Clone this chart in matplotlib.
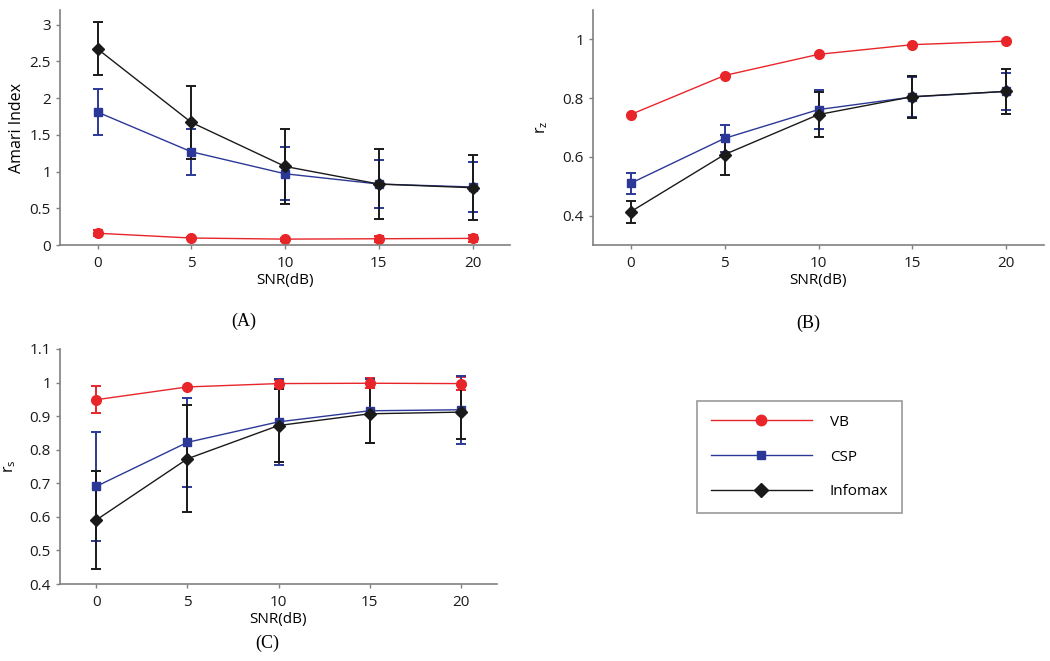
import matplotlib
matplotlib.use('Agg')
import matplotlib.pyplot as plt
from matplotlib.lines import Line2D

plt.rcParams['font.family'] = ['Open Sans', 'DejaVu Sans']

snr = [0, 5, 10, 15, 20]
metodos = ['VB', 'CSP', 'Infomax']

# (A) Amari index
amari_vb = [0.16, 0.095, 0.08, 0.085, 0.09]
amari_vb_err = [0.04, 0.02, 0.02, 0.04, 0.05]
amari_csp = [1.81, 1.27, 0.97, 0.83, 0.79]
amari_csp_err = [0.31, 0.31, 0.36, 0.33, 0.34]
amari_info = [2.67, 1.67, 1.07, 0.83, 0.78]
amari_info_err = [0.36, 0.50, 0.51, 0.48, 0.44]

# (B) r_z
rz_vb = [0.744, 0.877, 0.949, 0.982, 0.994]
rz_vb_err = [0, 0, 0, 0, 0]
rz_csp = [0.51, 0.663, 0.761, 0.804, 0.823]
rz_csp_err = [0.035, 0.045, 0.067, 0.068, 0.064]
rz_info = [0.413, 0.608, 0.744, 0.805, 0.823]
rz_info_err = [0.037, 0.068, 0.078, 0.072, 0.076]

# (C) r_s
rs_vb = [0.949, 0.987, 0.997, 0.998, 0.997]
rs_vb_err = [0.04, 0.0, 0.012, 0.015, 0.02]
rs_csp = [0.691, 0.822, 0.883, 0.916, 0.919]
rs_csp_err = [0.162, 0.133, 0.128, 0.096, 0.102]
rs_info = [0.591, 0.773, 0.872, 0.907, 0.912]
rs_info_err = [0.146, 0.16, 0.108, 0.088, 0.08]

cores = {'VB': '#e8262a', 'CSP': '#2b3897', 'Infomax': '#1a1a1a'}
marcadores = {'VB': ('o', 7), 'CSP': ('s', 5.5), 'Infomax': ('D', 6.5)}
cinza = '#808080'

fig = plt.figure(figsize=(10.5, 6.61), dpi=100)


def painel(pos, dados, ylim, yticks, ylabel, xlab_x):
    ax = fig.add_axes(pos)
    for nome, (y, err) in zip(metodos, dados):
        m, ms = marcadores[nome]
        ax.errorbar(snr, y, yerr=err, color=cores[nome], marker=m, markersize=ms,
                    linewidth=1.0, elinewidth=1.4, capsize=3.5, capthick=1.4,
                    label=nome)
    ax.set_xlim(-2, 22)
    ax.set_ylim(*ylim)
    ax.set_xticks(snr)
    ax.set_yticks(yticks)
    ax.set_yticklabels([('%g' % v) for v in yticks])
    for lado in ['top', 'right']:
        ax.spines[lado].set_visible(False)
    for lado in ['left', 'bottom']:
        ax.spines[lado].set_color(cinza)
        ax.spines[lado].set_linewidth(1.2)
    ax.tick_params(colors=cinza, labelcolor='#1a1a1a', labelsize=11, length=3, width=1)
    ax.tick_params(axis='x', pad=5)
    ax.set_xlabel('SNR(dB)', fontsize=11, labelpad=1)
    ax.set_ylabel(ylabel, fontsize=11.5)
    ax.yaxis.set_label_coords(xlab_x, 0.5)
    return ax


axA = painel([60 / 1050, 1 - 245 / 661, 450 / 1050, 235 / 661],
             [(amari_vb, amari_vb_err), (amari_csp, amari_csp_err), (amari_info, amari_info_err)],
             (0, 3.2), [0, 0.5, 1, 1.5, 2, 2.5, 3], 'Amari Index', -0.078)

axB = painel([593 / 1050, 1 - 245 / 661, 451 / 1050, 235 / 661],
             [(rz_vb, rz_vb_err), (rz_csp, rz_csp_err), (rz_info, rz_info_err)],
             (0.3, 1.1), [0.4, 0.6, 0.8, 1], r'r$_\mathregular{z}$', -0.095)

axC = painel([60 / 1050, 1 - 584 / 661, 437 / 1050, 235 / 661],
             [(rs_vb, rs_vb_err), (rs_csp, rs_csp_err), (rs_info, rs_info_err)],
             (0.4, 1.1), [0.4, 0.5, 0.6, 0.7, 0.8, 0.9, 1, 1.1], r'r$_\mathregular{s}$', -0.095)

serif = ['Liberation Serif', 'DejaVu Serif']
fig.text(244 / 1050, 1 - 321 / 661, '(A)', family=serif, fontsize=13, ha='center', va='center')
fig.text(808 / 1050, 1 - 323 / 661, '(B)', family=serif, fontsize=13, ha='center', va='center')
fig.text(267 / 1050, 1 - 643 / 661, '(C)', family=serif, fontsize=13, ha='center', va='center')

# legenda sem barras de erro
handles = [Line2D([], [], color=cores[n], marker=marcadores[n][0],
                  markersize=marcadores[n][1] + 0.5, linewidth=1.0) for n in metodos]
leg = fig.legend(handles, metodos, loc='upper left',
                 bbox_to_anchor=(697 / 1050, 1 - 401 / 661), fontsize=11,
                 handlelength=6.6, handletextpad=1.2, labelspacing=1.3,
                 borderpad=0.9, borderaxespad=0, fancybox=False, frameon=True)
leg.get_frame().set_edgecolor(cinza)
leg.get_frame().set_linewidth(1.2)

fig.savefig('out.png', dpi=100)
